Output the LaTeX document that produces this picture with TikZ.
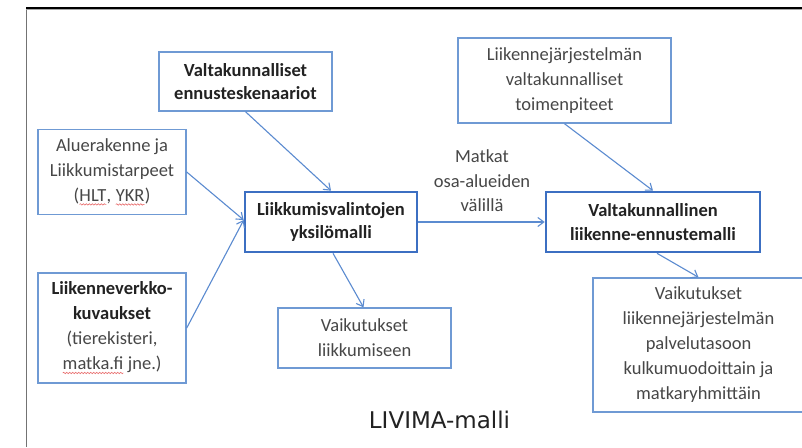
\documentclass[tikz,border=0pt]{standalone}
\usepackage{fontspec}
\setmainfont{Carlito}
\newfontfamily\livfont{DejaVu Sans}
\usetikzlibrary{arrows.meta,decorations.pathmorphing}
\definecolor{boxblue}{HTML}{6F9AD4}
\definecolor{boldblue}{HTML}{3C6FC2}
\definecolor{arrblue}{HTML}{5B8BD0}
\definecolor{txtgray}{HTML}{474747}
\definecolor{txtdark}{HTML}{222222}
\definecolor{squigred}{HTML}{E86A6A}
\newcommand\squig[1]{\tikz[baseline=(sq.base)]{\node[inner sep=0pt,outer sep=0pt,draw=none,minimum width=0pt,minimum height=0pt](sq){#1};\draw[squigred,line width=0.6pt,decorate,decoration={snake,amplitude=0.7pt,segment length=3pt}]([yshift=-3pt]sq.base west)--([yshift=-3pt]sq.base east);}}
\begin{document}
\begin{tikzpicture}[x=1pt,y=-1pt,
  box/.style={draw=boxblue,line width=1.4pt,align=center,inner sep=0pt,text=txtgray,font=\fontsize{18.5}{25}\selectfont},
  boldbox/.style={box,draw=boldblue,line width=2.6pt,text=txtdark,font=\fontsize{18.5}{23.5}\selectfont\bfseries},
  conn/.style={draw=arrblue,line width=1.1pt,-{Straight Barb[length=6pt,width=9pt]}},
  lbl/.style={align=center,inner sep=0pt,text=txtgray,font=\fontsize{18.5}{24.5}\selectfont}
]
\useasboundingbox (0,0) rectangle (802,447);
\clip (0,0) rectangle (802,447);
\fill[white] (0,0) rectangle (802,447);
% frame
\coordinate (ftl) at (26,8);
\coordinate (ftr) at (802,8);
\coordinate (fbl) at (26,447);
\draw[black!55,line width=1pt] (ftl) -- (fbl);
\draw[black!35,line width=1.5pt] ([yshift=-1.6pt]ftl) -- ([yshift=-1.6pt]ftr);
\draw[black,line width=2pt] (ftl) -- (ftr);
% boxes
\node[box,minimum width=173pt,minimum height=59pt,text=txtdark,font=\fontsize{18.5}{23.5}\selectfont\bfseries] (vale) at (245.5,81.5) {Valtakunnalliset\\ennusteskenaariot};
\node[box,minimum width=148pt,minimum height=85pt] (alue) at (112,172) {Aluerakenne ja\\Liikkumistarpeet\\(\squig{HLT}, \squig{YKR})};
\node[boldbox,minimum width=172pt,minimum height=60pt] (liik) at (331,222) {Liikkumisvalintojen\\yksilömalli};
\node[box,minimum width=148pt,minimum height=110pt] (verk) at (112,328) {\textcolor{txtdark}{\bfseries Liikenneverkko-}\\\textcolor{txtdark}{\bfseries kuvaukset}\\(tierekisteri,\\\squig{matka.fi} jne.)};
\node[box,minimum width=173pt,minimum height=60pt] (vliik) at (364.5,338) {Vaikutukset\\liikkumiseen};
\node[box,minimum width=213pt,minimum height=85pt] (ljt) at (564.5,80.5) {Liikennejärjestelmän\\valtakunnalliset\\toimenpiteet};
\node[boldbox,minimum width=214pt,minimum height=60pt] (vtm) at (653,222) {Valtakunnallinen\\liikenne-ennustemalli};
\node[box,minimum width=211pt,minimum height=134pt] (vljp) at (698.5,345) {Vaikutukset\\liikennejärjestelmän\\palvelutasoon\\kulkumuodoittain ja\\matkaryhmittäin};
% labels
\node[lbl] (matk) at (482,181) {Matkat\\osa-alueiden\\välillä};
\node[anchor=base,inner sep=0pt,text=txtdark,font=\livfont\fontsize{23}{28}\selectfont] (title) at (439.5,428) {LIVIMA-malli};
% connectors
\draw[conn] (vale.south) -- (liik.north);
\draw[conn] (alue.east) -- ([yshift=2pt]liik.west);
\draw[conn] (verk.east) -- ([yshift=2pt]liik.west);
\draw[conn] (liik.east) -- (vtm.west);
\draw[conn] (ljt.south) -- (vtm.north);
\draw[conn] ([xshift=2pt]liik.south) -- ([xshift=-1pt]vliik.north);
\draw[conn] ([xshift=4pt]vtm.south) -- (vljp.north);
\end{tikzpicture}
\end{document}
